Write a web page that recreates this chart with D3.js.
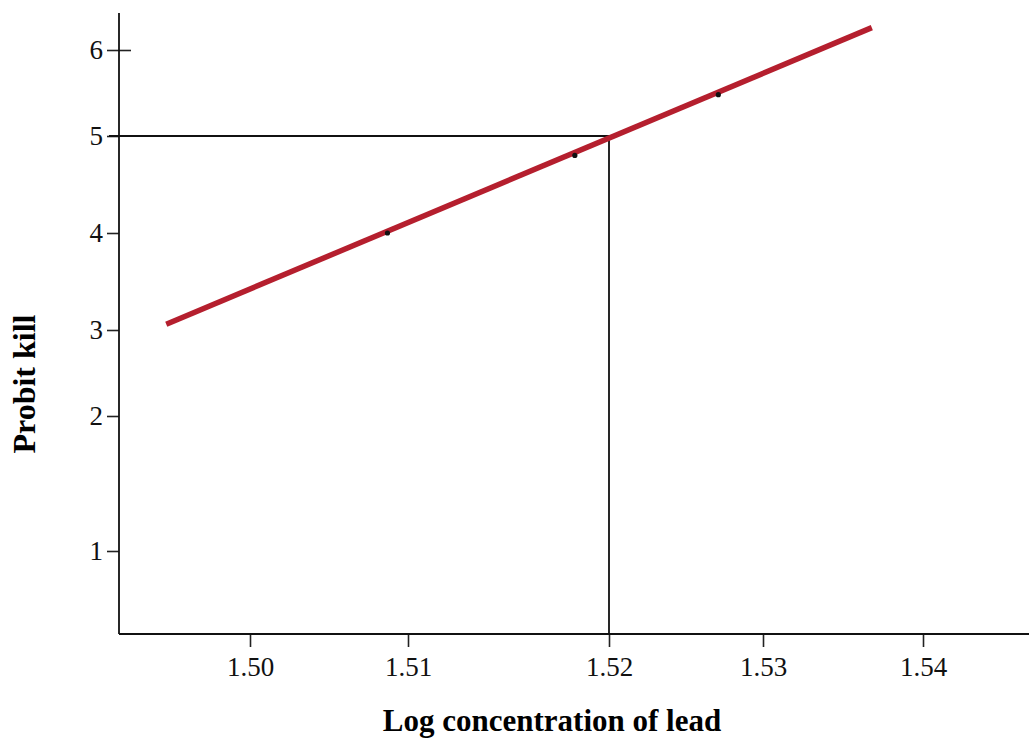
<!DOCTYPE html>
<html>
<head>
<meta charset="utf-8">
<script src="https://cdn.jsdelivr.net/npm/d3@7"></script>
<style>
  body { margin: 0; background: #fff; }
  svg { display: block; }
  .tick text { font-family: "Liberation Serif", "Times New Roman", serif; font-size: 27px; fill: #111; }
  .title { font-family: "Liberation Serif", "Times New Roman", serif; font-weight: bold; fill: #000; }
</style>
</head>
<body>
<svg id="chart" width="1029" height="740"></svg>
<script>
// Tick values as printed on the (non-uniform) axes
const xTicks = [1.50, 1.51, 1.52, 1.53, 1.54];
const yTicks = [1, 2, 3, 4, 5, 6];

// Observed points (log concentration, probit kill)
const pointX = [1.5087, 1.5183, 1.5271];
const pointY = [4.0, 4.8, 5.48];

// Fitted regression line endpoints
const fitX = [1.4947, 1.5368];
const fitY = [3.06, 6.26];

// LC50 reference
const lcX = 1.52;
const lcY = 5;

const svg = d3.select("#chart");
const plotLeft = 119, plotBottom = 634, plotTop = 13, plotRight = 1029;

// Printed ticks are not evenly spaced, so piecewise scales
const x = d3.scaleLinear().domain(xTicks).range([250, 408, 609, 763, 923]);
const y = d3.scaleLinear().domain(yTicks).range([551, 416, 330, 233, 136, 50]);

// Axes
const yAxis = svg.append("g")
    .attr("transform", `translate(${plotLeft},0)`)
    .call(d3.axisLeft(y).tickValues(yTicks).tickFormat(d3.format("d")).tickSize(12).tickPadding(4));
yAxis.select(".domain").remove();
yAxis.selectAll(".tick line").attr("stroke", "#222").attr("stroke-width", 1.6);
yAxis.selectAll(".tick").filter((d) => d === 6)
    .append("line").attr("x2", 12).attr("stroke", "#222").attr("stroke-width", 1.6);

const xAxis = svg.append("g")
    .attr("transform", `translate(0,${plotBottom})`)
    .call(d3.axisBottom(x).tickValues(xTicks).tickFormat(d3.format(".2f")).tickSize(13).tickPadding(10));
xAxis.select(".domain").remove();
xAxis.selectAll(".tick line").attr("stroke", "#222").attr("stroke-width", 1.6);

svg.append("line")
    .attr("x1", plotLeft).attr("x2", plotLeft).attr("y1", plotTop).attr("y2", plotBottom)
    .attr("stroke", "#111").attr("stroke-width", 1.8);
svg.append("line")
    .attr("x1", plotLeft).attr("x2", plotRight).attr("y1", plotBottom).attr("y2", plotBottom)
    .attr("stroke", "#111").attr("stroke-width", 1.8);

// LC50 guide lines
svg.append("path")
    .attr("fill", "none")
    .attr("stroke", "#111")
    .attr("stroke-width", 1.8)
    .attr("d", `M${plotLeft - 10},${y(lcY)} H${x(lcX)} V${plotBottom}`);

// Regression line
svg.append("path")
    .datum(fitX.map((v, i) => [v, fitY[i]]))
    .attr("fill", "none")
    .attr("stroke", "#b51f2e")
    .attr("stroke-width", 5.5)
    .attr("d", d3.line().x((d) => x(d[0])).y((d) => y(d[1])));

// Observed points
svg.append("g")
    .selectAll("circle")
    .data(pointX.map((v, i) => [v, pointY[i]]))
    .join("circle")
    .attr("cx", (d) => x(d[0]))
    .attr("cy", (d) => y(d[1]))
    .attr("r", 2.6)
    .attr("fill", "#111");

// Titles
svg.append("text")
    .attr("class", "title")
    .attr("x", 552)
    .attr("y", 731)
    .attr("text-anchor", "middle")
    .style("font-size", "31px")
    .text("Log concentration of lead");

svg.append("text")
    .attr("class", "title")
    .attr("transform", "translate(35,384) rotate(-90)")
    .attr("text-anchor", "middle")
    .style("font-size", "32px")
    .text("Probit kill");
</script>
</body>
</html>
